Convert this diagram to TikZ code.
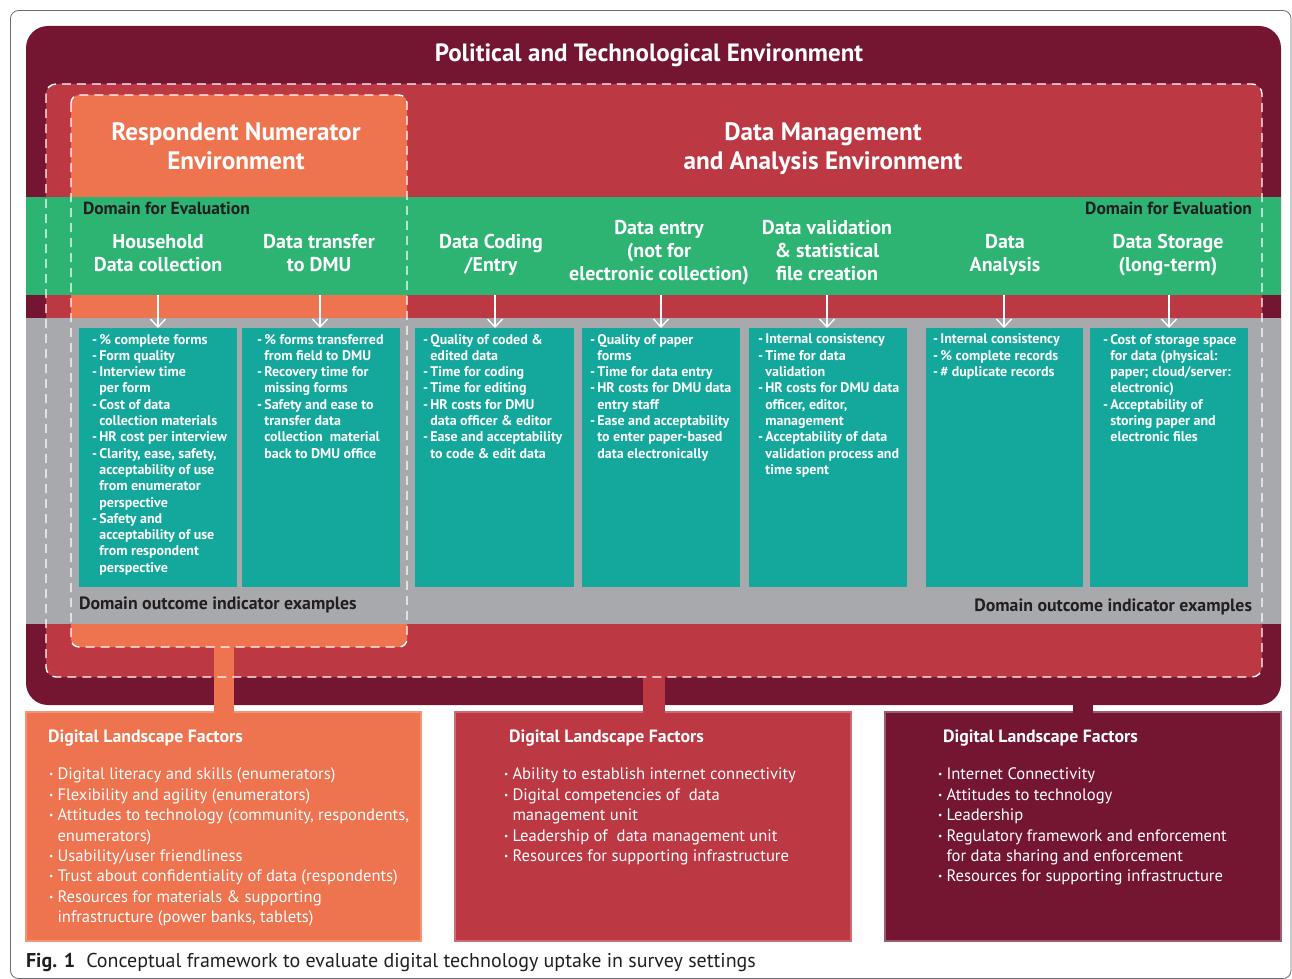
\documentclass[tikz,border=0pt]{standalone}
\usepackage{fontspec}
\setmainfont{PT Sans}
\usetikzlibrary{arrows.meta}
\definecolor{maroonc}{HTML}{741532}
\definecolor{redc}{HTML}{BC3843}
\definecolor{orangec}{HTML}{EE734F}
\definecolor{greenc}{HTML}{2DB473}
\definecolor{grayc}{HTML}{A7A9AC}
\definecolor{tealc}{HTML}{14A79B}
\definecolor{framec}{HTML}{6D6E71}
\definecolor{inkc}{HTML}{231F20}
\newcommand{\tdash}{-\,}
\newcommand{\tind}{\hphantom{-\,}}
\newcommand{\bul}{\makebox[8.5pt][l]{\raisebox{0.12em}{\fontsize{9.5}{9.5}\selectfont\textbullet}}}
\newcommand{\bind}{\hphantom{\bul}}
\begin{document}
\begin{tikzpicture}[x=1pt,y=-1pt,
  every node/.style={inner sep=0pt, outer sep=0pt},
  region/.style={anchor=north west, draw=none},
  dashframe/.style={draw=white, line width=1.4pt, dash pattern=on 9pt off 6pt},
  tealbox/.style={region, fill=tealc, minimum width=158pt, minimum height=259pt},
  lowbox/.style={region, minimum width=396pt, minimum height=229pt, line width=1.2pt},
  envtitle/.style={text=white, align=center, font=\bfseries\fontsize{25.2}{29}\selectfont},
  colhead/.style={text=white, align=center, font=\bfseries\fontsize{20}{23}\selectfont},
  domlabel/.style={text=inkc, font=\bfseries\fontsize{17.5}{20}\selectfont},
  indtext/.style={text=white, align=left, anchor=north west, font=\bfseries\fontsize{14}{16.3}\selectfont},
  factorhead/.style={text=white, anchor=west, font=\bfseries\fontsize{17.8}{20}\selectfont},
  factortext/.style={text=white, align=left, anchor=north west, font=\fontsize{16.6}{20.4}\selectfont},
  arr/.style={draw=white, line width=1.3pt, -{Straight Barb[length=8pt,width=15pt,line width=1.3pt]}},
  stem/.style={line width=#1}
]
\useasboundingbox (0,0) rectangle (1292,979);

% thin page frame
\draw[framec, line width=0.8pt, rounded corners=8pt] (10.5,10.5) rectangle (1291,978.5);

% nested environments
\node[region, fill=maroonc, rounded corners=22pt, minimum width=1255pt, minimum height=679pt] (env) at (26,26) {};
\node[region, fill=redc, rounded corners=10pt, minimum width=1216pt, minimum height=593pt] (dm) at (46,84) {};
\node[region, fill=orangec, rounded corners=8pt, minimum width=336pt, minimum height=552pt] (rn) at (71,95) {};

% bands: domains and indicators
\node[region, fill=greenc, minimum width=1255pt, minimum height=98pt] (green) at (26,197) {};
\node[region, fill=grayc, minimum width=1255pt, minimum height=306pt] (gray) at (26,318) {};

% indicator boxes
\node[tealbox] (t1) at (79,328) {};
\node[tealbox] (t2) at (242,328) {};
\node[tealbox, minimum width=159pt] (t3) at (415,328) {};
\node[tealbox] (t4) at (582,328) {};
\node[tealbox] (t5) at (749,328) {};
\node[tealbox, minimum width=157pt] (t6) at (926,328) {};
\node[tealbox] (t7) at (1090,328) {};

% factor boxes
\node[lowbox, fill=orangec, draw=orangec!75!white, minimum width=395pt] (b1) at (26,712) {};
\node[lowbox, fill=redc, draw=redc!75!white] (b2) at (455,712) {};
\node[lowbox, fill=maroonc, draw=maroonc!70!white] (b3) at (885,712) {};

% stems joining environments to their factors
\coordinate (s1) at (224,0);
\coordinate (s2) at (654,0);
\coordinate (s3) at (1083,0);
\draw[stem=20pt, orangec] ([yshift=2pt]rn.south -| s1) -- ([yshift=-1pt]b1.north -| s1);
\draw[stem=22pt, redc] ([yshift=2pt]dm.south -| s2) -- ([yshift=-1pt]b2.north -| s2);
\draw[stem=20pt, maroonc] ([yshift=2pt]env.south -| s3) -- ([yshift=-1pt]b3.north -| s3);

% dashed outlines
\draw[dashframe, rounded corners=10pt] (dm.north west) rectangle (dm.south east);
\draw[dashframe, rounded corners=8pt] (rn.north west) rectangle (rn.south east);

% titles
\node[text=white, font=\bfseries\fontsize{25}{29}\selectfont] (ptitle) at (649,55) {Political and Technological Environment};
\node[envtitle] (rntitle) at (236,146) {Respondent Numerator\\Environment};
\node[envtitle] (dmtitle) at (823,149) {Data Management\\and Analysis Environment};

% domain labels
\node[domlabel, anchor=west] (dl1) at (83,208) {Domain for Evaluation};
\node[domlabel, anchor=east] (dl2) at (1252,208) {Domain for Evaluation};
\node[domlabel, anchor=west, font=\bfseries\fontsize{17.8}{20}\selectfont] (ol1) at (79,605) {Domain outcome indicator examples};
\node[domlabel, anchor=east, font=\bfseries\fontsize{17.8}{20}\selectfont] (ol2) at (1252,607) {Domain outcome indicator examples};

% domain headings
\node[colhead] (h1) at (158,253) {Household\\Data collection};
\node[colhead] (h2) at (319,253) {Data transfer\\to DMU};
\node[colhead] (h3) at (491,255) {Data Coding\\/Entry};
\node[colhead] (h4) at (659,253) {Data entry\\(not for\\electronic collection)};
\node[colhead] (h5) at (827,251) {Data validation\\\& statistical\\file creation};
\node[colhead] (h6) at (1005,255) {Data\\Analysis};
\node[colhead] (h7) at (1168,255) {Data Storage\\(long-term)};

% arrows from domains to indicators
\foreach \i/\x in {1/158,2/320,3/495,4/661,5/827,6/1004,7/1169}
  \draw[arr] (\x,0 |- green.south) -- (\x,0 |- t\i.north);

% indicator texts
\node[indtext] (x1) at (92,334) {\tdash\% complete forms\\\tdash Form quality\\\tdash Interview time\\\tind per form\\\tdash Cost of data\\\tind collection materials\\\tdash HR cost per interview\\\tdash Clarity, ease, safety,\\\tind acceptability of use\\\tind from enumerator\\\tind perspective\\\tdash Safety and\\\tind acceptability of use\\\tind from respondent\\\tind perspective};
\node[indtext] (x2) at (257,334) {\tdash\% forms transferred\\\tind from field to DMU\\\tdash Recovery time for\\\tind missing forms\\\tdash Safety and ease to\\\tind transfer data\\\tind collection \ material\\\tind back to DMU office};
\node[indtext] (x3) at (423,334) {\tdash Quality of coded \&\\\tind edited data\\\tdash Time for coding\\\tdash Time for editing\\\tdash HR costs for DMU\\\tind data officer \& editor\\\tdash Ease and acceptability\\\tind to code \& edit data};
\node[indtext] (x4) at (590,334) {\tdash Quality of paper\\\tind forms\\\tdash Time for data entry\\\tdash HR costs for DMU data\\\tind entry staff\\\tdash Ease and acceptability\\\tind to enter paper-based\\\tind data electronically};
\node[indtext] (x5) at (758,334) {\tdash Internal consistency\\\tdash Time for data\\\tind validation\\\tdash HR costs for DMU data\\\tind officer, editor,\\\tind management\\\tdash Acceptability of data\\\tind validation process and\\\tind time spent};
\node[indtext] (x6) at (933,334) {\tdash Internal consistency\\\tdash\% complete records\\\tdash\# duplicate records};
\node[indtext] (x7) at (1103,334) {\tdash Cost of storage space\\\tind for data (physical:\\\tind paper; cloud/server:\\\tind electronic)\\\tdash Acceptability of\\\tind storing paper and\\\tind electronic files};

% digital landscape factors
\node[factorhead] (f1h) at (48,738) {Digital Landscape Factors};
\node[factortext] (f1) at (49,768) {\bul Digital literacy and skills (enumerators)\\\bul Flexibility and agility (enumerators)\\\bul Attitudes to technology (community, respondents,\\\bind enumerators)\\\bul Usability/user friendliness\\\bul Trust about confidentiality of data (respondents)\\\bul Resources for materials \& supporting\\\bind infrastructure (power banks, tablets)};
\node[factorhead] (f2h) at (509,738) {Digital Landscape Factors};
\node[factortext] (f2) at (504,768) {\bul Ability to establish internet connectivity\\\bul Digital competencies of \ data\\\bind management unit\\\bul Leadership of \ data management unit\\\bul Resources for supporting infrastructure};
\node[factorhead] (f3h) at (943,738) {Digital Landscape Factors};
\node[factortext] (f3) at (938,768) {\bul Internet Connectivity\\\bul Attitudes to technology\\\bul Leadership\\\bul Regulatory framework and enforcement\\\bind for data sharing and enforcement\\\bul Resources for supporting infrastructure};

% caption
\node[anchor=west, text=inkc, font=\fontsize{20}{24}\selectfont] (cap) at (26,962) {\textbf{Fig. 1}\hspace{11pt}Conceptual framework to evaluate digital technology uptake in survey settings};
\end{tikzpicture}
\end{document}
